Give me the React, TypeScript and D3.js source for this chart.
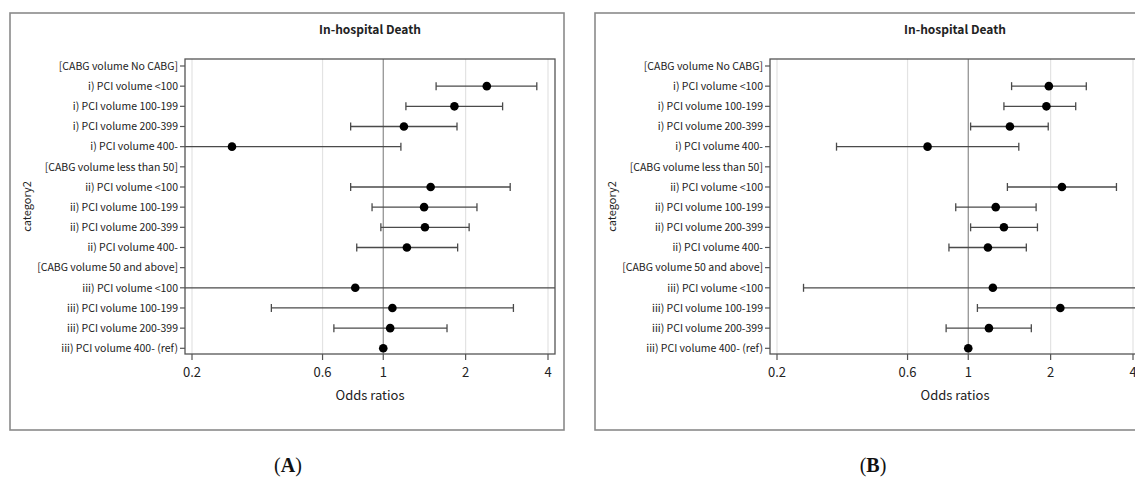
import React from 'react';
import * as d3 from 'd3';

// rows of the forest plot, top to bottom
const categories = [
  '[CABG volume No CABG]',
  'i) PCI volume <100',
  'i) PCI volume 100-199',
  'i) PCI volume 200-399',
  'i) PCI volume 400-',
  '[CABG volume less than 50]',
  'ii) PCI volume <100',
  'ii) PCI volume 100-199',
  'ii) PCI volume 200-399',
  'ii) PCI volume 400-',
  '[CABG volume 50 and above]',
  'iii) PCI volume <100',
  'iii) PCI volume 100-199',
  'iii) PCI volume 200-399',
  'iii) PCI volume 400- (ref)',
];

const tickValues = [0.2, 0.6, 1, 2, 4];

// panel A: odds ratio with lower / upper CI (null = header row or reference)
const orA = [null, 2.39, 1.82, 1.19, 0.28, null, 1.49, 1.41, 1.42, 1.22, null, 0.79, 1.08, 1.06, 1.0];
const loA = [null, 1.56, 1.21, 0.76, 0.15, null, 0.76, 0.91, 0.98, 0.8, null, 0.15, 0.39, 0.66, null];
const hiA = [null, 3.64, 2.73, 1.86, 1.16, null, 2.91, 2.2, 2.06, 1.87, null, 5.0, 2.99, 1.71, null];

// panel B
const orB = [null, 1.97, 1.93, 1.42, 0.71, null, 2.2, 1.26, 1.35, 1.18, null, 1.23, 2.17, 1.19, 1.0];
const loB = [null, 1.44, 1.35, 1.02, 0.33, null, 1.39, 0.9, 1.02, 0.85, null, 0.25, 1.08, 0.83, null];
const hiB = [null, 2.7, 2.47, 1.96, 1.53, null, 3.48, 1.77, 1.79, 1.63, null, 5.0, 4.6, 1.7, null];

const FONT = '"Noto Sans CJK JP", "Noto Sans", sans-serif';

type Num = number | null;

const Panel = ({ ox, id, letter, or, lo, hi }: { ox: number; id: string; letter: string; or: Num[]; lo: Num[]; hi: Num[] }) => {
  const frame = { left: 185, right: 555, top: 59, bottom: 354 };

  const x = d3.scaleLog().domain([0.2, 4]).range([192, 548]);
  const y = d3.scalePoint<string>().domain(categories).range([66, 348.3]);
  const [dMin, dMax] = x.domain();
  const cx = (frame.left + frame.right) / 2;

  const rows = categories.map((c, i) => ({ c, or: or[i], lo: lo[i], hi: hi[i] }));

  return (
    <g transform={`translate(${ox},0)`}>
      <defs>
        <clipPath id={`clip-${id}`}>
          <rect x={frame.left} y={frame.top} width={frame.right - frame.left} height={frame.bottom - frame.top} />
        </clipPath>
      </defs>
      {/* outer box */}
      <rect x={10} y={13} width={554} height={417} fill="white" stroke="#8a8a8a" strokeWidth={1.6} />

      <text x={cx} y={34} textAnchor="middle" fontFamily={FONT} fontSize={12} fontWeight="bold" fill="#222">
        In-hospital Death
      </text>

      {/* grid lines */}
      {tickValues.map((t) => (
        <line key={t} x1={x(t)} x2={x(t)} y1={frame.top} y2={frame.bottom}
          stroke={t === 1 ? '#8c8c8c' : '#e3e3e3'} strokeWidth={t === 1 ? 1.2 : 1.2} />
      ))}

      {/* CIs */}
      <g clipPath={`url(#clip-${id})`}>
        {rows.filter((r) => r.lo != null && r.hi != null).map((r) => {
          const yy = y(r.c)!;
          const x1 = x(r.lo as number);
          const x2 = x(r.hi as number);
          return (
            <g key={r.c} stroke="#4a4a4a" strokeWidth={1.3}>
              <line x1={x1} x2={x2} y1={yy} y2={yy} />
              {(r.lo as number) >= dMin && <line x1={x1} x2={x1} y1={yy - 4} y2={yy + 4} />}
              {(r.hi as number) <= dMax && <line x1={x2} x2={x2} y1={yy - 4} y2={yy + 4} />}
            </g>
          );
        })}
      </g>
      {rows.filter((r) => r.or != null).map((r) => (
        <circle key={r.c} cx={x(r.or as number)} cy={y(r.c)!} r={4.3} fill="black" />
      ))}

      {/* plot frame */}
      <rect x={frame.left} y={frame.top} width={frame.right - frame.left} height={frame.bottom - frame.top}
        fill="none" stroke="#555" strokeWidth={1.3} />

      {/* y axis */}
      {categories.map((c) => (
        <g key={c}>
          <line x1={frame.left - 5} x2={frame.left} y1={y(c)!} y2={y(c)!} stroke="#555" strokeWidth={1.2} />
          <text x={frame.left - 7} y={y(c)!} dy="0.36em" textAnchor="end" fontFamily={FONT} fontSize={10.5} fill="#222">
            {c}
          </text>
        </g>
      ))}
      <text transform={`translate(31,${(frame.top + frame.bottom) / 2}) rotate(-90)`} textAnchor="middle"
        fontFamily={FONT} fontSize={11} fill="#222">
        category2
      </text>

      {/* x axis */}
      {tickValues.map((t) => (
        <g key={t}>
          <line x1={x(t)} x2={x(t)} y1={frame.bottom} y2={frame.bottom + 6} stroke="#555" strokeWidth={1.2} />
          <text x={x(t)} y={377} textAnchor="middle" fontFamily={FONT} fontSize={13} fill="#222">
            {d3.format('~g')(t)}
          </text>
        </g>
      ))}
      <text x={cx} y={400} textAnchor="middle" fontFamily={FONT} fontSize={13} fill="#222">
        Odds ratios
      </text>

      <text x={288} y={472} textAnchor="middle" fontFamily='"Liberation Serif", "DejaVu Serif", serif' fontSize={20} fill="#111">
        (<tspan fontWeight="bold">{letter}</tspan>)
      </text>
    </g>
  );
};

export default function App() {
  return (
    <svg width={1135} height={479} style={{ position: 'absolute', left: 0, top: 0, background: 'white' }}>
      <Panel ox={0} id="a" letter="A" or={orA} lo={loA} hi={hiA} />
      <Panel ox={585} id="b" letter="B" or={orB} lo={loB} hi={hiB} />
    </svg>
  );
}
